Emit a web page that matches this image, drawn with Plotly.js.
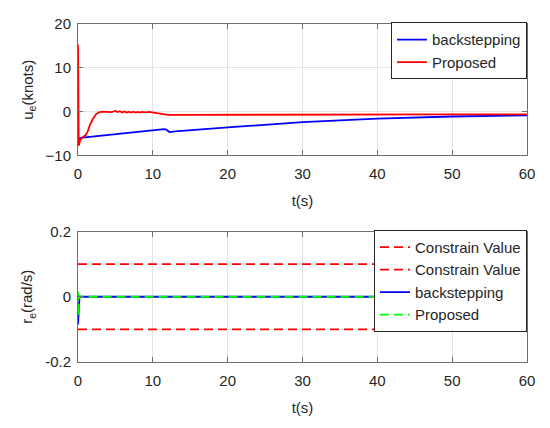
<!DOCTYPE html>
<html>
<head>
<meta charset="utf-8">
<script src="https://cdn.plot.ly/plotly-3.0.1.min.js"></script>
<style>html,body{margin:0;padding:0;background:#fff;}#plot{width:550px;height:428px;}</style>
</head>
<body>
<div id="plot"></div>
<script>
// Top panel: u_e (knots)
const tBackTop = [0, 0.3, 11.5, 11.8, 12.2, 13, 20, 30, 40, 50, 60];
const uBack    = [-6.3, -6.0, -4.0, -4.1, -4.65, -4.5, -3.6, -2.4, -1.6, -1.1, -0.85];
const tPropTop = [0, 0.05, 0.1, 0.3, 0.6, 1.0, 1.3, 1.6, 2.0, 2.4, 2.8, 3.2, 3.6, 4.0, 4.5, 5.0, 5.3, 5.6, 5.9, 6.2, 6.5, 6.8, 7.1, 7.4, 7.7, 8.0, 8.3, 8.6, 9.0, 9.5, 10.0, 10.5, 11.0, 11.5, 12.0, 14, 20, 30, 40, 50, 60];
const uProp    = [15.3, 5, -7.8, -6.5, -5.8, -5.4, -4.5, -3.0, -1.6, -0.6, -0.15, 0, 0, 0.05, -0.1, 0.15, -0.1, 0.1, -0.2, 0.05, -0.2, 0, -0.2, 0, -0.2, -0.05, -0.2, -0.05, -0.15, -0.05, -0.2, -0.4, -0.6, -0.7, -0.75, -0.75, -0.7, -0.66, -0.62, -0.6, -0.6];

// Bottom panel: r_e (rad/s)
const tConstr   = [0, 60];
const rUpper    = [0.1, 0.1];
const rLower    = [-0.1, -0.1];
const tBackBot  = [0, 0.1, 0.2, 60];
const rBack     = [-0.085, -0.02, 0, 0];
const tPropBot  = [0, 0.05, 0.15, 0.3, 60];
const rProp     = [0.015, -0.06, 0.005, 0, 0];

const xTicks = [0, 10, 20, 30, 40, 50, 60];
const yTicksTop = [-10, 0, 10, 20];
const yTicksBot = [-0.2, 0, 0.2];

const LW = 1.8;
const traces = [
  {x: tBackTop, y: uBack, name: 'backstepping', mode: 'lines', line: {color: '#0000ff', width: LW}, xaxis: 'x', yaxis: 'y', legend: 'legend'},
  {x: tPropTop, y: uProp, name: 'Proposed', mode: 'lines', line: {color: '#ff0000', width: LW}, xaxis: 'x', yaxis: 'y', legend: 'legend'},
  {x: tConstr, y: rUpper, name: 'Constrain Value', mode: 'lines', line: {color: '#ff0000', width: LW, dash: '9px,5px'}, xaxis: 'x2', yaxis: 'y2', legend: 'legend2'},
  {x: tConstr, y: rLower, name: 'Constrain Value', mode: 'lines', line: {color: '#ff0000', width: LW, dash: '9px,5px'}, xaxis: 'x2', yaxis: 'y2', legend: 'legend2'},
  {x: tBackBot, y: rBack, name: 'backstepping', mode: 'lines', line: {color: '#0000ff', width: LW}, xaxis: 'x2', yaxis: 'y2', legend: 'legend2'},
  {x: tPropBot, y: rProp, name: 'Proposed', mode: 'lines', line: {color: '#00ff00', width: LW, dash: '9px,5px'}, xaxis: 'x2', yaxis: 'y2', legend: 'legend2'}
];

const font = {family: 'Liberation Sans, Arial, sans-serif', size: 15, color: '#262626'};
const axBase = {
  showline: true, linecolor: '#6e6e6e', linewidth: 1, mirror: 'ticks',
  ticks: 'inside', ticklen: 5, tickcolor: '#6e6e6e',
  showgrid: true, gridcolor: '#e3e3e3', gridwidth: 1, zeroline: false,
  tickfont: font
};

const layout = {
  width: 550, height: 428,
  margin: {l: 78, r: 23, t: 24, b: 66},
  paper_bgcolor: '#ffffff', plot_bgcolor: '#ffffff',
  font: font,
  xaxis: Object.assign({}, axBase, {domain: [0, 1], range: [0, 60], tickvals: xTicks, anchor: 'y', ticklabelstandoff: 5,
    title: {text: 't(s)', font: font, standoff: 14}}),
  yaxis: Object.assign({}, axBase, {domain: [0.611, 1], range: [-10, 20], tickvals: yTicksTop, anchor: 'x', ticklabelstandoff: 3,
    title: {text: 'u<sub>e</sub>(knots)', font: font, standoff: 8}}),
  xaxis2: Object.assign({}, axBase, {domain: [0, 1], range: [0, 60], tickvals: xTicks, anchor: 'y2', ticklabelstandoff: 5,
    title: {text: 't(s)', font: font, standoff: 14}}),
  yaxis2: Object.assign({}, axBase, {domain: [0, 0.386], range: [-0.2, 0.2], tickvals: yTicksBot, ticktext: ['-0.2', '0', '0.2'], anchor: 'x2', ticklabelstandoff: 3,
    title: {text: 'r<sub>e</sub>(rad/s)', font: font, standoff: 8}}),
  legend: {x: 1, xanchor: 'right', y: 1.005, yanchor: 'top', bgcolor: '#ffffff', bordercolor: '#262626', borderwidth: 1,
    font: font, tracegroupgap: 0, itemwidth: 30},
  legend2: {x: 1, xanchor: 'right', y: 0.391, yanchor: 'top', bgcolor: '#ffffff', bordercolor: '#262626', borderwidth: 1,
    font: font, tracegroupgap: 0, itemwidth: 30},
  showlegend: true
};

Plotly.newPlot('plot', traces, layout, {displayModeBar: false, staticPlot: true});
</script>
</body>
</html>
